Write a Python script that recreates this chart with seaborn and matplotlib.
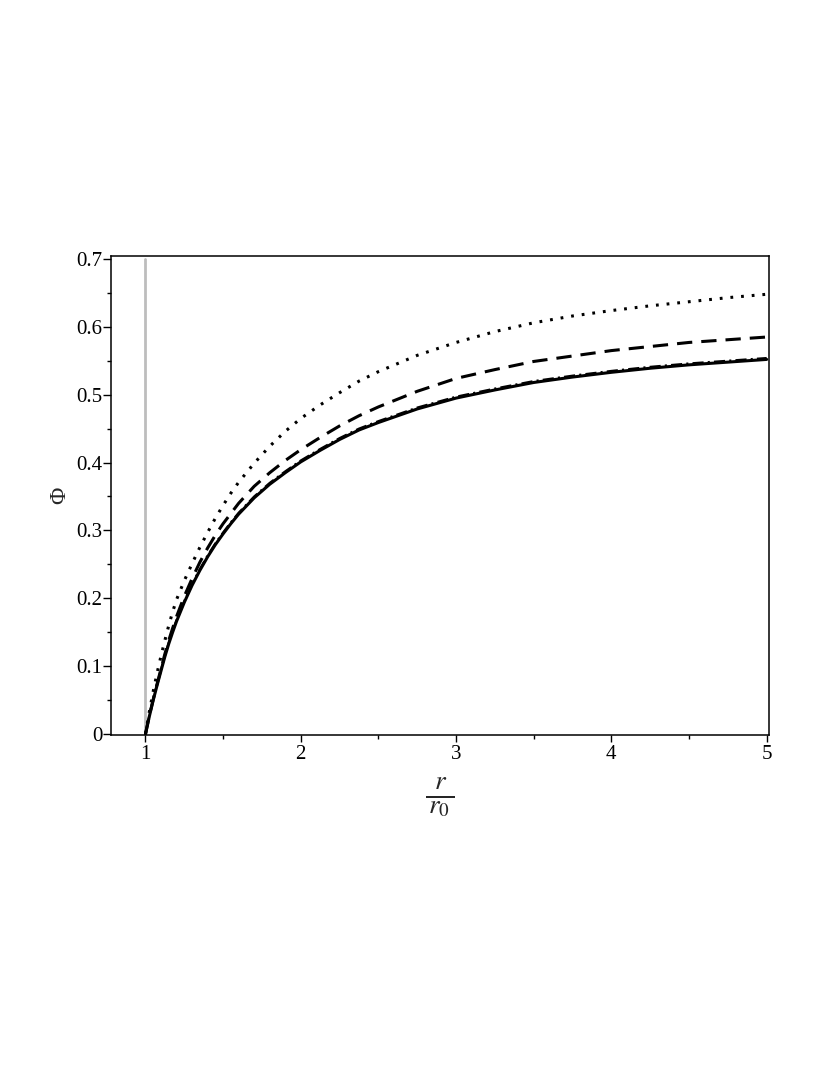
import numpy as np
import pandas as pd
import matplotlib
matplotlib.use("Agg")
import matplotlib.pyplot as plt
import seaborn as sns

# ---- data ----
r_vals = [1.0, 1.025, 1.05, 1.075, 1.1, 1.125, 1.15, 1.175, 1.2, 1.25, 1.3, 1.35,
          1.4, 1.45, 1.5, 1.55, 1.6, 1.7, 1.8, 1.9, 2.0, 2.125, 2.25, 2.375, 2.5,
          2.75, 3.0, 3.25, 3.5, 3.75, 4.0, 4.25, 4.5, 4.75, 5.0]
phi_solid = [0.0, 0.026, 0.050, 0.072, 0.093, 0.114, 0.133, 0.150, 0.166, 0.194,
             0.219, 0.241, 0.261, 0.279, 0.295, 0.310, 0.324, 0.348, 0.368, 0.385,
             0.401, 0.418, 0.434, 0.448, 0.459, 0.479, 0.495, 0.507, 0.518, 0.526,
             0.533, 0.539, 0.544, 0.548, 0.552]
phi_dashdot = [0.0, 0.027, 0.052, 0.074, 0.095, 0.116, 0.135, 0.152, 0.168, 0.196,
               0.221, 0.243, 0.263, 0.281, 0.297, 0.312, 0.326, 0.350, 0.370, 0.387,
               0.403, 0.420, 0.436, 0.450, 0.461, 0.481, 0.497, 0.509, 0.520, 0.528,
               0.535, 0.541, 0.546, 0.550, 0.554]
phi_dashed = [0.0, 0.027, 0.051, 0.074, 0.096, 0.118, 0.138, 0.156, 0.173, 0.203,
              0.229, 0.253, 0.274, 0.293, 0.310, 0.325, 0.340, 0.365, 0.385, 0.403,
              0.419, 0.437, 0.454, 0.469, 0.482, 0.505, 0.524, 0.537, 0.549, 0.557,
              0.565, 0.571, 0.577, 0.581, 0.585]
phi_dotted = [0.0, 0.033, 0.063, 0.090, 0.115, 0.138, 0.160, 0.180, 0.198, 0.226,
              0.251, 0.275, 0.297, 0.318, 0.337, 0.355, 0.371, 0.399, 0.424, 0.446,
              0.465, 0.485, 0.503, 0.520, 0.534, 0.558, 0.577, 0.593, 0.606, 0.616,
              0.624, 0.631, 0.637, 0.643, 0.648]
throat_x = [1.0, 1.0]
throat_y = [0.0, 0.7]

x_ticks = [1, 2, 3, 4, 5]
y_ticks = [0, 0.1, 0.2, 0.3, 0.4, 0.5, 0.6, 0.7]
y_ticklabels = ["0", "0.1", "0.2", "0.3", "0.4", "0.5", "0.6", "0.7"]

sns.set_style("ticks")
plt.rcParams['font.family'] = ['Liberation Serif', 'DejaVu Serif']
plt.rcParams['mathtext.fontset'] = 'stix'
plt.rcParams['lines.scale_dashes'] = False

fig = plt.figure(figsize=(8.3, 10.75), dpi=100)
ax = fig.add_axes([111 / 830, 340 / 1075, 658 / 830, 479 / 1075])

df = pd.DataFrame({"r": r_vals, "solid": phi_solid, "dashdot": phi_dashdot,
                   "dashed": phi_dashed, "dotted": phi_dotted})

sns.lineplot(x=throat_x, y=throat_y, ax=ax, color="#bdbdbd", linewidth=2.0,
             estimator=None, sort=False)
sns.lineplot(data=df, x="r", y="dotted", ax=ax, color="black", linewidth=2.2,
             estimator=None, sort=False, linestyle=(0, (2.0, 5.7)))
sns.lineplot(data=df, x="r", y="dashed", ax=ax, color="black", linewidth=2.2,
             estimator=None, sort=False, linestyle=(0, (11.0, 6.5)))
sns.lineplot(data=df, x="r", y="solid", ax=ax, color="black", linewidth=2.2,
             estimator=None, sort=False)
sns.lineplot(data=df, x="r", y="dashdot", ax=ax, color="black", linewidth=1.6,
             estimator=None, sort=False, linestyle=(0, (8.0, 3.0, 1.5, 3.0)))

ax.set_xlim(0.778, 5.015)
ax.set_ylim(-0.0015, 0.7044)
ax.set_xticks(x_ticks)
ax.set_xticklabels([str(t) for t in x_ticks])
ax.set_xticks([1.5, 2.5, 3.5, 4.5], minor=True)
ax.set_yticks(y_ticks)
ax.set_yticklabels(y_ticklabels)
ax.set_yticks([0.05, 0.15, 0.25, 0.35, 0.45, 0.55, 0.65], minor=True)
ax.tick_params(axis="x", which="major", direction="out", length=5, width=1.0,
               labelsize=15, pad=2.5, color="black", labelcolor="black")
ax.tick_params(axis="y", which="major", direction="out", length=5.8, width=1.0,
               labelsize=15, pad=0.5, color="black", labelcolor="black")
ax.tick_params(axis="both", which="minor", direction="out", length=3, width=1.0,
               color="black")
for s in ax.spines.values():
    s.set_visible(True)
    s.set_linewidth(1.1)
    s.set_color("black")

ax.set_ylabel("Φ", fontsize=17)
ax.yaxis.set_label_coords(-0.062, 0.5)
ax.set_xlabel(r"$\frac{r}{\,r_0\,}$", fontsize=28)
ax.xaxis.set_label_coords(0.5, -0.086)

fig.savefig("out.png", dpi=100, facecolor="white")
